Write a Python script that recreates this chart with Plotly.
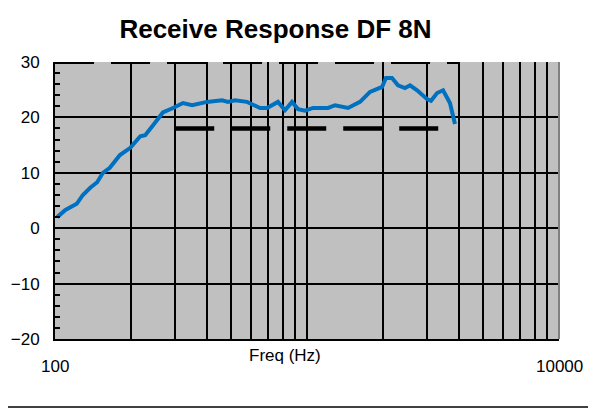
import plotly.graph_objects as go
import math

# ---- data ----
freq_hz = [102, 110, 122, 129, 138, 147, 155, 165, 181, 199, 218, 228, 245, 268,
           294, 322, 350, 401, 460, 486, 518, 578, 651, 694, 767, 818, 872, 921,
           982, 1057, 1212, 1292, 1455, 1623, 1779, 1914, 1986, 2057, 2174, 2297,
           2448, 2564, 2735, 2995, 3106, 3283, 3467, 3692, 3866]
response_db = [2.0, 3.3, 4.4, 6.0, 7.3, 8.3, 10.0, 10.9, 13.2, 14.5, 16.6, 16.8, 18.6, 20.9,
               21.7, 22.6, 22.2, 22.8, 23.1, 22.8, 23.1, 22.8, 21.7, 21.7, 22.8, 21.3, 22.8, 21.5,
               21.2, 21.7, 21.7, 22.2, 21.7, 22.8, 24.6, 25.3, 25.5, 27.1, 27.1, 25.8,
               25.3, 25.8, 24.9, 23.3, 23.0, 24.4, 24.9, 22.6, 18.8]

upper_limit_freq = [100, 4000]
upper_limit_db = [30, 30]
lower_limit_freq = [300, 3400]
lower_limit_db = [18, 18]

x_tick_labels = ["100", "10000"]
x_tick_values = [100, 10000]
y_tick_values = [-20, -10, 0, 10, 20, 30]

grid_vals = [m * 10 ** e for e in (2, 3) for m in range(1, 10)] + [10000]

FONT = "Liberation Sans, Arial, sans-serif"

fig = go.Figure()
fig.add_trace(go.Scatter(x=upper_limit_freq, y=upper_limit_db, mode="lines",
                         line=dict(color="black", width=4, dash="39px,17px"),
                         hoverinfo="skip", showlegend=False))
fig.add_trace(go.Scatter(x=lower_limit_freq, y=lower_limit_db, mode="lines",
                         line=dict(color="black", width=4.5, dash="39px,17px"),
                         hoverinfo="skip", showlegend=False))
fig.add_trace(go.Scatter(x=freq_hz, y=response_db, mode="lines",
                         line=dict(color="#0070C0", width=4),
                         showlegend=False))

annotations = []
for v, t in zip(x_tick_values, x_tick_labels):
    annotations.append(dict(x=math.log10(v), xref="x", y=-0.0975, yref="paper",
                            text=t, showarrow=False, xanchor="center", yanchor="middle",
                            font=dict(family=FONT, size=17, color="black")))
annotations.append(dict(x=0.456, xref="paper", y=-0.061, yref="paper",
                        text="Freq (Hz)", showarrow=False, xanchor="center", yanchor="middle",
                        font=dict(family=FONT, size=17, color="black")))

shapes = [
    # outer frame
    dict(type="line", xref="paper", yref="paper", x0=-0.099, x1=1.08, y0=1.213, y1=1.213,
         line=dict(color="black", width=1.5)),
    dict(type="line", xref="paper", yref="paper", x0=-0.099, x1=1.08, y0=-0.2455, y1=-0.2455,
         line=dict(color="black", width=1.5)),
    dict(type="line", xref="paper", yref="paper", x0=-0.099, x1=-0.099, y0=-0.2455, y1=1.213,
         line=dict(color="#b0b0b0", width=1.5)),
    # right edge of plot area
    dict(type="line", xref="paper", yref="paper", x0=1, x1=1, y0=0, y1=1,
         line=dict(color="#808080", width=2)),
]

fig.update_layout(
    width=596, height=408,
    margin=dict(l=47, r=45, t=54, b=77, autoexpand=False),
    paper_bgcolor="white",
    plot_bgcolor="#C0C0C0",
    title=dict(text="<b>Receive Response DF 8N</b>", x=0.4375, xref="paper",
               xanchor="center", y=0.9485, yref="container", yanchor="middle",
               font=dict(family=FONT, size=26, color="black")),
    xaxis=dict(type="log", range=[2, 4], tickvals=grid_vals, showticklabels=False,
               ticks="", showgrid=True, gridcolor="black", gridwidth=2,
               showline=True, linecolor="black", linewidth=2, zeroline=False,
               fixedrange=True, automargin=False),
    yaxis=dict(range=[-20, 30], tickvals=y_tick_values, showgrid=True,
               gridcolor="black", gridwidth=2, ticks="inside", ticklen=5,
               tickcolor="black", tickwidth=1.5,
               minor=dict(dtick=2, ticks="inside", ticklen=5, tickcolor="black",
                          tickwidth=1.5, showgrid=False),
               showline=True, linecolor="black", linewidth=2, zeroline=False,
               tickfont=dict(family=FONT, size=17, color="black"),
               ticklabelstandoff=10, fixedrange=True, automargin=False),
    annotations=annotations,
    shapes=shapes,
)

fig.write_html("out.html")
